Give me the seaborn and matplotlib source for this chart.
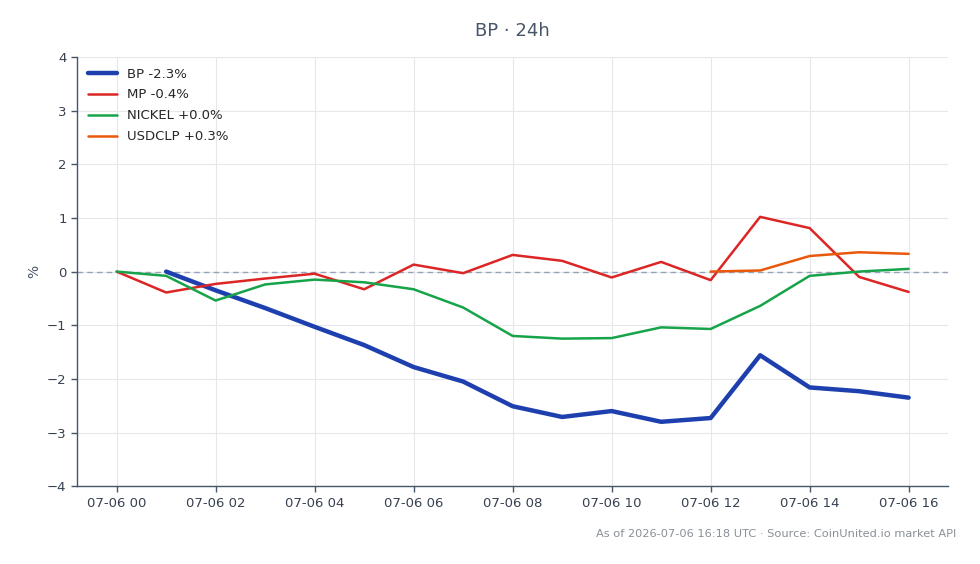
import numpy as np
import pandas as pd
import matplotlib
matplotlib.use("Agg")
import matplotlib.pyplot as plt
import matplotlib.dates as mdates
import seaborn as sns

hours = pd.date_range("2026-07-06 00:00", periods=17, freq="h")
nan = np.nan
bp = [nan, 0.0, -0.35, -0.68, -1.03, -1.37, -1.78, -2.05, -2.51, -2.71, -2.60, -2.80, -2.73, -1.56, -2.16, -2.23, -2.35]
mp = [0.0, -0.39, -0.23, -0.13, -0.04, -0.33, 0.13, -0.03, 0.31, 0.20, -0.11, 0.18, -0.16, 1.02, 0.81, -0.10, -0.38]
nickel = [0.0, -0.08, -0.54, -0.24, -0.15, -0.20, -0.33, -0.67, -1.20, -1.25, -1.24, -1.04, -1.07, -0.64, -0.08, 0.0, 0.05]
usdclp = [nan] * 12 + [0.0, 0.02, 0.29, 0.36, 0.33]
labels = ["BP -2.3%", "MP -0.4%", "NICKEL +0.0%", "USDCLP +0.3%"]
colors = ["#1e40af", "#dc2626", "#16a34a", "#ea580c"]
widths = [3.2, 1.8, 1.8, 1.8]

sns.set_theme(style="whitegrid")
plt.rcParams['font.family'] = ['DejaVu Sans']

fig = plt.figure(figsize=(9.8, 5.64), dpi=100)
ax = fig.add_axes([0.0786, 0.138, 0.889, 0.761])

for vals, lab, c, w in zip([bp, mp, nickel, usdclp], labels, colors, widths):
    df = pd.DataFrame({"t": hours, "v": vals}).dropna()
    sns.lineplot(data=df, x="t", y="v", ax=ax, color=c, linewidth=w, label=lab)

ax.axhline(0, color="#94a3b8", linestyle=(0, (4, 3)), linewidth=1.0, zorder=1)

ax.set_ylim(-4, 4)
ax.set_yticks(range(-4, 5))
ax.set_yticklabels([str(v).replace("-", "\u2212") for v in range(-4, 5)])
ax.xaxis.set_major_locator(mdates.HourLocator(byhour=range(0, 24, 2)))
ax.xaxis.set_major_formatter(mdates.DateFormatter("%m-%d %H"))
ax.set_xlabel("")
ax.set_ylabel("%", color="#475569", fontsize=10)

ax.grid(True, color="#e5e7eb", linewidth=0.8)
ax.set_facecolor("white")
for s in ["top", "right"]:
    ax.spines[s].set_visible(False)
for s in ["left", "bottom"]:
    ax.spines[s].set_color("#475569")
    ax.spines[s].set_linewidth(1.0)
ax.tick_params(axis="both", colors="#475569", labelsize=9.5, length=4, width=1, direction="out",
               bottom=True, left=True, labelcolor="#374151")

ax.set_title("BP \u00b7 24h", color="#475569", fontsize=13, pad=15)

leg = ax.legend(loc="upper left", frameon=False, fontsize=9.5, handlelength=2.2,
                labelspacing=0.6, borderaxespad=0.4)

fig.text(0.976, 0.053, "As of 2026-07-06 16:18 UTC \u00b7 Source: CoinUnited.io market API",
         ha="right", va="center", fontsize=8.2, color="#8a8f98")

fig.savefig("out.png", dpi=100, facecolor="white")
